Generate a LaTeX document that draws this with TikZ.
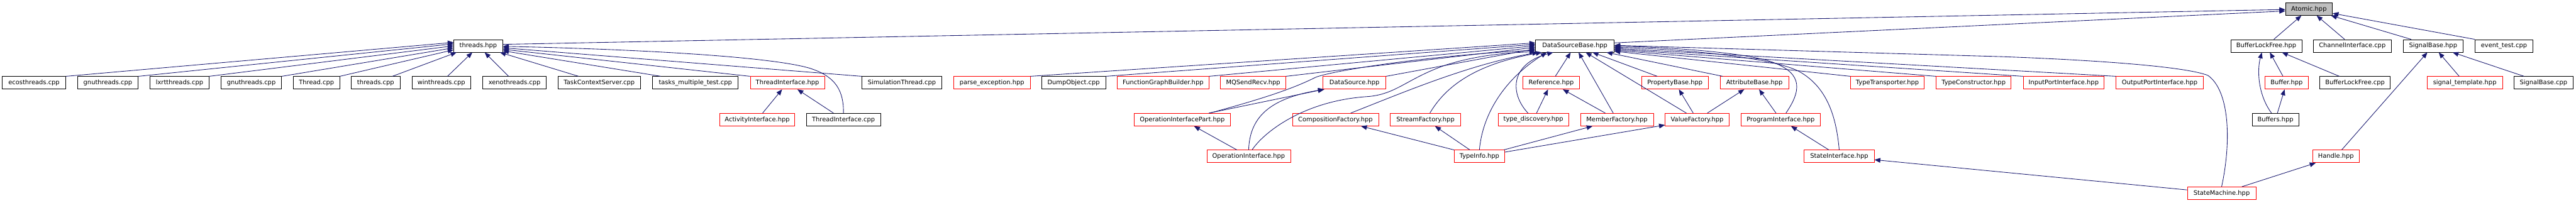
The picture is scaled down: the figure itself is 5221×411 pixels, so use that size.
\documentclass[tikz,border=0pt]{standalone}
\usepackage{fontspec}
\newfontfamily\djsans{DejaVu Sans}
\usetikzlibrary{arrows.meta,calc}
\definecolor{edgeblue}{HTML}{191970}
\definecolor{rootgray}{HTML}{BFBFBF}
\tikzset{
  nd/.style={draw=black, line width=1pt, fill=white, minimum height=25.5pt, inner sep=0pt,
             font=\djsans\fontsize{12.6}{14}\selectfont, text=black},
  rd/.style={nd, draw=red},
  rootnd/.style={nd, fill=rootgray},
  edge/.style={draw=edgeblue, line width=1.1pt, -{Triangle[length=12pt,width=9.5pt]}},
}
\begin{document}
\begin{tikzpicture}[x=1pt,y=-1pt]
\fill[white] (0,0) rectangle (5221,411);
\useasboundingbox (0,0) rectangle (5221,411);
% row 0
\node[rootnd, minimum width=95pt] (atomic) at (4679.7,18.3) {Atomic.hpp};
% row 1
\node[nd, minimum width=98.8pt] (threadshpp) at (969.3,93) {threads.hpp};
\node[nd, minimum width=158.9pt] (dsb) at (3191.85,93) {DataSourceBase.hpp};
\node[nd, minimum width=144pt] (blf) at (4593.2,93) {BufferLockFree.hpp};
\node[nd, minimum width=157.3pt] (chan) at (4767.55,93) {ChannelInterface.cpp};
\node[nd, minimum width=121.3pt] (sigbase) at (4931.35,93) {SignalBase.hpp};
\node[nd, minimum width=117.5pt] (evtest) at (5074.95,93) {event\_test.cpp};
% row 2
\node[nd, minimum width=128.6pt] (ecos) at (68.9,168) {ecosthreads.cpp};
\node[nd, minimum width=123.3pt] (gnua) at (218.55,168) {gnuthreads.cpp};
\node[nd, minimum width=119.1pt] (lxrt) at (363.85,168) {lxrtthreads.cpp};
\node[nd, minimum width=122.9pt] (gnub) at (509.25,168) {gnuthreads.cpp};
\node[nd, minimum width=93.8pt] (threadcpp) at (641.4,168) {Thread.cpp};
\node[nd, minimum width=99.1pt] (threadscpp) at (761.25,168) {threads.cpp};
\node[nd, minimum width=119.1pt] (win) at (894.45,168) {winthreads.cpp};
\node[nd, minimum width=129.4pt] (xeno) at (1042.8,168) {xenothreads.cpp};
\node[nd, minimum width=166.6pt] (tcs) at (1214.5,168) {TaskContextServer.cpp};
\node[nd, minimum width=173.4pt] (tmt) at (1409.4,168) {tasks\_multiple\_test.cpp};
\node[rd, minimum width=150.8pt] (tih) at (1596,168) {ThreadInterface.hpp};
\node[nd, minimum width=161.9pt] (sim) at (1827.85,168) {SimulationThread.cpp};
\node[rd, minimum width=155.1pt] (parse) at (2010.45,168) {parse\_exception.hpp};
\node[nd, minimum width=129.4pt] (dump) at (2176,168) {DumpObject.cpp};
\node[rd, minimum width=185.7pt] (fgb) at (2357.25,168) {FunctionGraphBuilder.hpp};
\node[rd, minimum width=132pt] (mq) at (2539.9,168) {MQSendRecv.hpp};
\node[rd, minimum width=127.1pt] (ds) at (2745.25,168) {DataSource.hpp};
\node[rd, minimum width=114.1pt] (ref) at (3143.85,168) {Reference.hpp};
\node[rd, minimum width=135.9pt] (pb) at (3394.75,168) {PropertyBase.hpp};
\node[rd, minimum width=139.4pt] (ab) at (3555.8,168) {AttributeBase.hpp};
\node[rd, minimum width=149.3pt] (tt) at (3825.25,168) {TypeTransporter.hpp};
\node[rd, minimum width=152pt] (tc) at (4000,168) {TypeConstructor.hpp};
\node[rd, minimum width=163.8pt] (ipi) at (4182.5,168) {InputPortInterface.hpp};
\node[rd, minimum width=176.5pt] (opi) at (4377.15,168) {OutputPortInterface.hpp};
\node[rd, minimum width=86.9pt] (buf) at (4634.35,168) {Buffer.hpp};
\node[nd, minimum width=143.2pt] (blfcpp) at (4773.1,168) {BufferLockFree.cpp};
\node[rd, minimum width=152.4pt] (sigt) at (4995.5,168) {signal\_template.hpp};
\node[nd, minimum width=120.2pt] (sigcpp) at (5155.1,168) {SignalBase.cpp};
% row 3
\node[rd, minimum width=152.3pt] (act) at (1534.75,242.6) {ActivityInterface.hpp};
\node[nd, minimum width=149.8pt] (ticpp) at (1709.5,242.6) {ThreadInterface.cpp};
\node[rd, minimum width=194.5pt] (oip) at (2396.15,242.6) {OperationInterfacePart.hpp};
\node[rd, minimum width=174.6pt] (cf) at (2706.6,242.6) {CompositionFactory.hpp};
\node[rd, minimum width=142.9pt] (sf) at (2889.05,242.6) {StreamFactory.hpp};
\node[rd, minimum width=143.1pt] (td) at (3107.85,242.6) {type\_discovery.hpp};
\node[rd, minimum width=147.4pt] (mf) at (3277.2,242.6) {MemberFactory.hpp};
\node[rd, minimum width=129.5pt] (vf) at (3439.75,242.6) {ValueFactory.hpp};
\node[rd, minimum width=161.6pt] (pi) at (3609,242.6) {ProgramInterface.hpp};
\node[nd, minimum width=94.5pt] (bufs) at (4611.75,242.6) {Buffers.hpp};
% row 4
\node[rd, minimum width=169.6pt] (oi) at (2530.7,317.2) {OperationInterface.hpp};
\node[rd, minimum width=101.8pt] (ti) at (2998.4,317.2) {TypeInfo.hpp};
\node[rd, minimum width=141.7pt] (si) at (3727.65,317.2) {StateInterface.hpp};
\node[rd, minimum width=94.9pt] (handle) at (4734.45,317.2) {Handle.hpp};
% row 5
\node[rd, minimum width=139pt] (sm) at (4502.7,391.9) {StateMachine.hpp};

% ---- edges into threads.hpp
\draw[edge] (ecos.north east) -- ($(threadshpp.west)+(0,-7)$);
\draw[edge] (gnua.north east) -- ($(threadshpp.west)+(0,-4)$);
\draw[edge] (lxrt.north east) -- ($(threadshpp.west)+(0,0)$);
\draw[edge] (gnub.north east) -- ($(threadshpp.west)+(0,4)$);
\draw[edge] (threadcpp.north east) -- ($(threadshpp.west)+(0,8)$);
\draw[edge] ($(threadscpp.north east)+(-16,0)$) -- ($(threadshpp.south west)+(6,0)$);
\draw[edge] ($(win.north)+(12.5,0)$) -- ($(threadshpp.south)+(-12,0)$);
\draw[edge] ($(xeno.north)+(-12,0)$) -- ($(threadshpp.south)+(13,0)$);
\draw[edge] ($(tcs.north west)+(42,0)$) -- ($(threadshpp.south east)+(-6,0)$);
\draw[edge] ($(tmt.north west)+(17,0)$) -- ($(threadshpp.east)+(0,10)$);
\draw[edge] (tih.north west) -- ($(threadshpp.east)+(0,7)$);
\draw[edge] (sim.north west) -- ($(threadshpp.east)+(0,4)$);
\draw[edge] (ticpp.north) .. controls (1710,185) and (1695,155) .. (1640,138)
   .. controls (1560,115) and (1300,100) .. ($(threadshpp.east)+(0,1)$);
\draw[edge] ($(threadshpp.east)+(0,-3)$) -- ($(atomic.west)+(0,1)$);
\draw[edge] (act) -- (tih);
\draw[edge] (ticpp) -- (tih);

% ---- edges into DataSourceBase.hpp (left)
\draw[edge] (parse.north east) -- ($(dsb.west)+(0,-6)$);
\draw[edge] (dump.north east) -- ($(dsb.west)+(0,-3)$);
\draw[edge] (fgb.north east) -- ($(dsb.west)+(0,0)$);
\draw[edge] (mq.north east) -- ($(dsb.west)+(0,3)$);
\draw[edge] (ds.north east) -- ($(dsb.west)+(0,6)$);
\draw[edge] ($(oip.north)+(56,0)$) .. controls (2560,200) and (2620,180) .. (2666,157)
   .. controls (2700,143) and (2900,112) .. ($(dsb.west)+(0,9)$);
\draw[edge] ($(oip.north)+(54,0)$) -- ($(ds.south west)+(2,0)$);
\draw[edge] (oi) -- (oip);
\draw[edge] (oi.north) .. controls (2533,240) and (2570,200) .. ($(ds.south west)+(3,0)$);
\draw[edge] ($(oi.north)+(7,0)$) .. controls (2560,270) and (2640,205) .. (2770,196)
   .. controls (2830,192) and (2850,160) .. (2930,132)
   .. controls (2990,113) and (3050,107) .. ($(dsb.west)+(0,12)$);
\draw[edge] ($(cf.north)+(31,0)$) .. controls (2850,185) and (2980,130) .. ($(dsb.south west)+(6,0)$);
\draw[edge] ($(sf.north)+(9,0)$) .. controls (2930,175) and (2990,130) .. ($(dsb.south west)+(13,0)$);
\draw[edge] (ti.north) .. controls (3005,230) and (3050,160) .. ($(dsb.south west)+(23,0)$);
\draw[edge] ($(td.north)+(-11,0)$) .. controls (3060,190) and (3060,130) .. ($(dsb.south west)+(36,0)$);
\draw[edge] (td) -- (ref);
\draw[edge] (ref) -- (dsb);
\draw[edge] (mf) -- (ref);
\draw[edge] (mf) -- (dsb);
\draw[edge] (ti) -- (mf);
\draw[edge] (ti) -- (vf);
\draw[edge] (ti) -- (cf);
\draw[edge] (ti) -- (sf);
\draw[edge] (vf) -- (dsb);
\draw[edge] (vf) -- (pb);
\draw[edge] (vf) -- (ab);
\draw[edge] (pb) -- (dsb);
\draw[edge] (ab) -- (dsb);
\draw[edge] (pi) -- (ab);
% ---- edges into DataSourceBase.hpp (right)
\draw[edge] ($(pi.north)+(10.7,0)$) .. controls (3650,185) and (3655,150) .. (3595,127)
   .. controls (3545,108) and (3400,96) .. ($(dsb.east)+(0,1)$);
\draw[edge] (si) -- (pi);
\draw[edge] (si.north) .. controls (3722,240) and (3705,180) .. (3650,147)
   .. controls (3600,117) and (3420,100) .. ($(dsb.east)+(0,3)$);
\draw[edge] (sm) -- (si);
\draw[edge] (sm) -- (handle);
\draw[edge] (sm.north) .. controls (4522,290) and (4520,185) .. (4475,153)
   .. controls (4430,135) and (4250,122) .. (4060,115) -- ($(dsb.east)+(0,-1)$);
\draw[edge] (tt.north west) -- ($(dsb.east)+(0,11)$);
\draw[edge] (tc.north west) -- ($(dsb.east)+(0,9)$);
\draw[edge] (ipi.north west) -- ($(dsb.east)+(0,7)$);
\draw[edge] (opi.north west) -- ($(dsb.east)+(0,5)$);
\draw[edge] ($(dsb.east)+(0,-6)$) -- ($(atomic.west)+(0,4)$);

% ---- Atomic group
\draw[edge] (blf) -- (atomic);
\draw[edge] (chan) -- (atomic);
\draw[edge] (sigbase) -- (atomic);
\draw[edge] (evtest.north west) -- (atomic);
\draw[edge] (buf) -- (blf);
\draw[edge] ($(bufs.north)+(-8,0)$) .. controls (4575,190) and (4575,140) .. ($(blf.south)+(-9,0)$);
\draw[edge] (blfcpp) -- (blf);
\draw[edge] (bufs) -- (buf);
\draw[edge] (handle) -- (sigbase);
\draw[edge] (sigt) -- (sigbase);
\draw[edge] (sigcpp) -- (sigbase);
\end{tikzpicture}
\end{document}
